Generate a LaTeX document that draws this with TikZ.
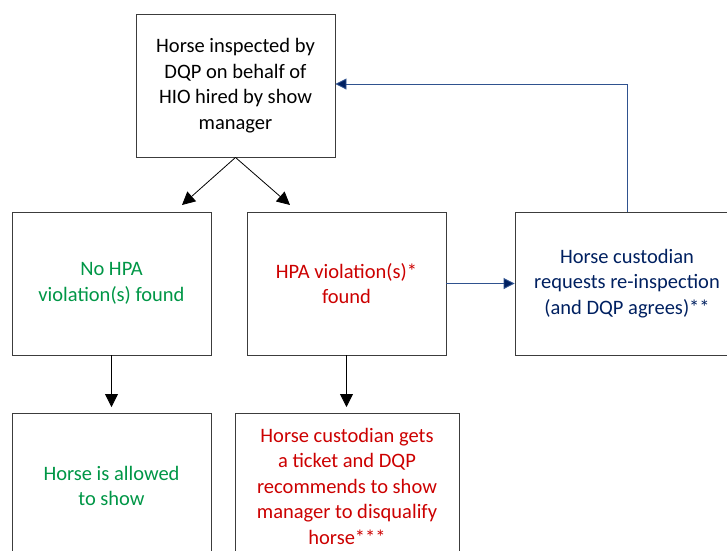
\documentclass[tikz,border=0pt]{standalone}
\usepackage{fontspec}
\setmainfont{Carlito}
\usetikzlibrary{arrows.meta}
\definecolor{okgreen}{RGB}{0,150,70}
\definecolor{badred}{RGB}{204,0,0}
\definecolor{navy}{RGB}{0,32,96}
\definecolor{linkblue}{RGB}{47,82,143}
\definecolor{boxline}{RGB}{60,60,60}
\tikzset{
  box/.style={draw=boxline, line width=0.9pt, align=center, inner sep=0pt,
    font=\fontsize{20.5}{25.5}\selectfont},
  blk/.style={line width=0.8pt, -{Triangle[length=13pt,width=13pt]}},
  blu/.style={draw=linkblue, line width=0.9pt, -{Triangle[length=11pt,width=11pt,fill=navy]}}
}
\begin{document}
\begin{tikzpicture}[x=1pt,y=-1pt]
\useasboundingbox (0,0) rectangle (727,550);
\clip (0,0) rectangle (727,550);
\node[box, minimum width=199pt, minimum height=143pt] (top) at (235.5,85.5)
  {Horse inspected by\\DQP on behalf of\\HIO hired by show\\manager};
\node[box, minimum width=199pt, minimum height=143pt, text=okgreen] (nohpa) at (111.5,283.5)
  {No HPA\\violation(s) found};
\node[box, minimum width=199pt, minimum height=143pt, text=badred] (hpa) at (346.5,283.5)
  {HPA violation(s)*\\found};
\node[box, minimum width=224pt, minimum height=143pt, text=navy] (req) at (627,283.5)
  {Horse custodian\\requests re-inspection\\(and DQP agrees)**};
\node[box, minimum width=199pt, minimum height=146pt, text=okgreen] (allowed) at (111.5,486)
  {Horse is allowed\\to show};
\node[box, minimum width=224pt, minimum height=146pt, text=badred] (ticket) at (347,486)
  {Horse custodian gets\\a ticket and DQP\\recommends to show\\manager to disqualify\\horse***};
\coordinate (tl) at (182,205);
\coordinate (tr) at (290,205);
\coordinate (dl) at (111.5,407);
\coordinate (dr) at (346.5,407);
\draw[blk] (top.south) -- (tl);
\draw[blk] (top.south) -- (tr);
\draw[blk] (nohpa.south) -- (dl);
\draw[blk] (hpa.south) -- (dr);
\draw[blu] (hpa.east) -- (req.west);
\draw[blu] (req.north) |- ([yshift=1.5pt]top.east);
\end{tikzpicture}
\end{document}
